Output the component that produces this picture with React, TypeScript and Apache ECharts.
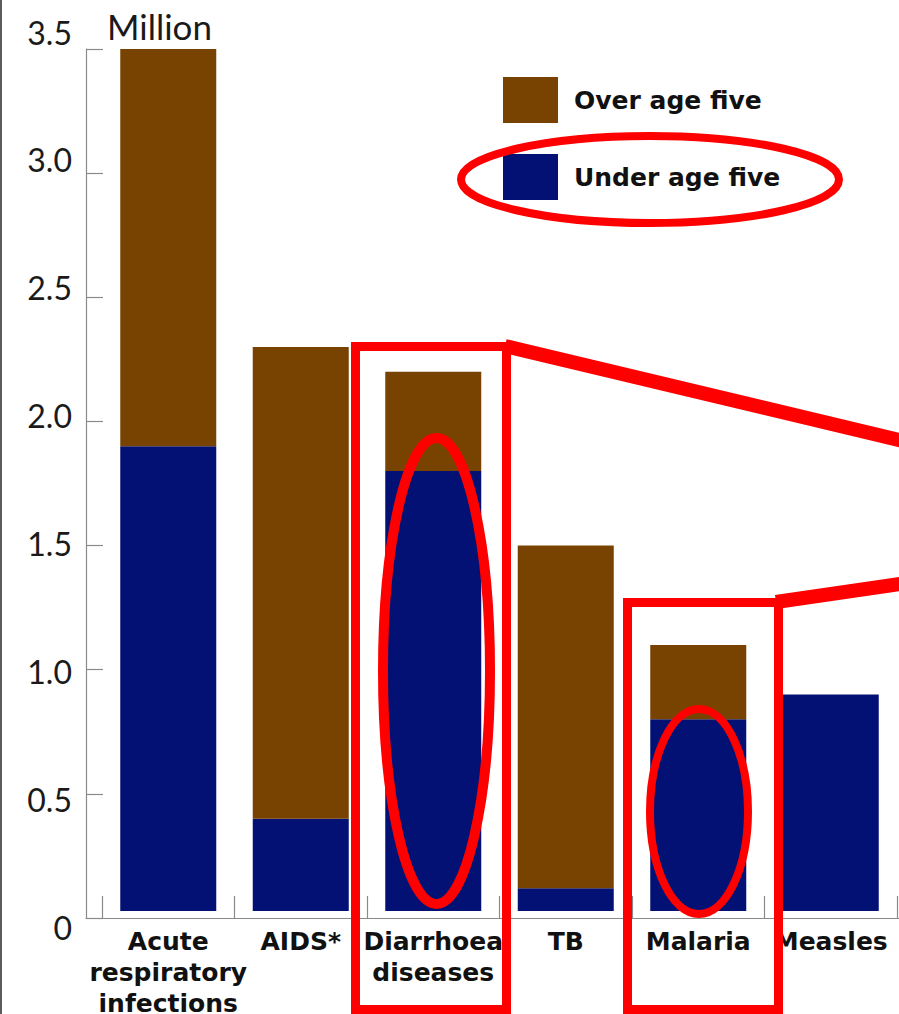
import React, { useEffect, useRef } from "react";
import * as echarts from "echarts";

// Deaths by cause, millions, split by age group
const categories = [
  "Acute\nrespiratory\ninfections",
  "AIDS*",
  "Diarrhoea\ndiseases",
  "TB",
  "Malaria",
  "Measles",
];
const underFive = [1.9, 0.4, 1.8, 0.12, 0.8, 0.9];
const overFive = [1.6, 1.9, 0.4, 1.38, 0.3, 0];
const yTickLabels = ["0", "0.5", "1.0", "1.5", "2.0", "2.5", "3.0", "3.5"];

const BROWN = "#784200";
const NAVY = "#031174";
const RED = "#ff0000";
const AXIS_GRAY = "#8a8a8a";
const BOLD_FONT = "DejaVu Sans";
const LIGHT_FONT = "Lato";

export default function App() {
  const ref = useRef<HTMLDivElement>(null);

  useEffect(() => {
    if (!ref.current) return;
    const chart = echarts.init(ref.current, null, { renderer: "svg" });

    const option: echarts.EChartsOption = {
      animation: false,
      backgroundColor: "#ffffff",
      grid: [
        // axis frame: value 0 at the base line, 3.5 at the top tick
        { left: 86, top: 49, width: 813, height: 869, outerBoundsMode: "none" },
        // bars and category ticks
        { left: 102, top: 49, width: 795, height: 862, outerBoundsMode: "none" },
        // value-axis tick labels
        { left: 86, top: 32, width: 1, height: 895, outerBoundsMode: "none" },
      ],
      xAxis: [
        {
          gridIndex: 0,
          type: "value",
          min: 0,
          max: 1,
          axisLine: { show: true, lineStyle: { color: AXIS_GRAY, width: 1.2 } },
          axisTick: { show: false },
          axisLabel: { show: false },
          splitLine: { show: false },
        },
        {
          gridIndex: 1,
          type: "category",
          data: categories,
          offset: 7,
          axisLine: { show: false },
          axisTick: {
            show: true,
            inside: true,
            length: 22,
            lineStyle: { color: AXIS_GRAY, width: 1.2 },
          },
          axisLabel: {
            interval: 0,
            margin: 8,
            color: "#111111",
            fontFamily: BOLD_FONT,
            fontWeight: "bold",
            fontSize: 25,
            lineHeight: 31,
            verticalAlign: "top",
          },
          splitLine: { show: false },
        },
        { gridIndex: 2, type: "value", show: false },
      ],
      yAxis: [
        {
          gridIndex: 0,
          type: "value",
          min: 0,
          max: 3.5,
          interval: 0.5,
          axisLine: { show: true, lineStyle: { color: AXIS_GRAY, width: 1.2 } },
          axisTick: {
            show: true,
            inside: true,
            length: 17,
            lineStyle: { color: AXIS_GRAY, width: 1.2 },
          },
          axisLabel: { show: false },
          splitLine: { show: false },
        },
        {
          gridIndex: 1,
          type: "value",
          min: 7 / 248.3,
          max: 3.5,
          show: false,
          splitLine: { show: false },
        },
        {
          gridIndex: 2,
          type: "value",
          min: 0,
          max: 3.5,
          interval: 0.5,
          axisLine: { show: false },
          axisTick: { show: false },
          splitLine: { show: false },
          axisLabel: {
            margin: 14,
            color: "#1a1a1a",
            fontFamily: LIGHT_FONT,
            fontWeight: 400,
            fontSize: 32,
            formatter: (_v: number, i: number) => yTickLabels[i],
          },
        },
      ],
      legend: {
        orient: "vertical",
        left: 503,
        top: 77,
        padding: 0,
        itemWidth: 55,
        itemHeight: 46,
        itemGap: 31,
        icon: "rect",
        data: ["Over age five", "Under age five"],
        textStyle: {
          color: "#111111",
          fontFamily: BOLD_FONT,
          fontWeight: "bold",
          fontSize: 25,
          padding: [18, 0, 0, 11],
        },
      },
      series: [
        {
          name: "Under age five",
          type: "bar",
          stack: "deaths",
          xAxisIndex: 1,
          yAxisIndex: 1,
          barWidth: 96,
          clip: true,
          data: underFive,
          itemStyle: { color: NAVY },
        },
        {
          name: "Over age five",
          type: "bar",
          stack: "deaths",
          xAxisIndex: 1,
          yAxisIndex: 1,
          barWidth: 96,
          clip: true,
          data: overFive,
          itemStyle: { color: BROWN },
        },
      ],
      graphic: [
        {
          type: "rect",
          z: 100,
          shape: { x: 0, y: 0, width: 2, height: 1014 },
          style: { fill: "#5c5c5c" },
        },
        {
          type: "text",
          z: 100,
          x: 107,
          y: 26,
          style: {
            text: "Million",
            fill: "#1a1a1a",
            font: `400 35px ${LIGHT_FONT}`,
            verticalAlign: "middle",
            align: "left",
          },
        },
        // highlight around the under-five legend entry
        {
          type: "ellipse",
          z: 100,
          shape: { cx: 650, cy: 179.5, rx: 189, ry: 43.5 },
          style: { fill: null, stroke: RED, lineWidth: 8 },
        },
        // diarrhoea call-out
        {
          type: "rect",
          z: 100,
          shape: { x: 355.5, y: 346.5, width: 151, height: 663 },
          style: { fill: null, stroke: RED, lineWidth: 9 },
        },
        {
          type: "ellipse",
          z: 100,
          shape: { cx: 436.5, cy: 671, rx: 53.5, ry: 233 },
          style: { fill: null, stroke: RED, lineWidth: 10 },
        },
        {
          type: "line",
          z: 100,
          shape: { x1: 505, y1: 346, x2: 920, y2: 445 },
          style: { stroke: RED, lineWidth: 14 },
        },
        // malaria call-out
        {
          type: "rect",
          z: 100,
          shape: { x: 627.5, y: 602.5, width: 151, height: 407 },
          style: { fill: null, stroke: RED, lineWidth: 9 },
        },
        {
          type: "line",
          z: 100,
          shape: { x1: 776, y1: 602, x2: 920, y2: 581 },
          style: { stroke: RED, lineWidth: 14 },
        },
        {
          type: "ellipse",
          z: 100,
          shape: { cx: 699, cy: 811.5, rx: 49, ry: 102.5 },
          style: { fill: null, stroke: RED, lineWidth: 8 },
        },
      ],
    };

    chart.setOption(option);
    return () => chart.dispose();
  }, []);

  return (
    <div
      ref={ref}
      style={{ position: "fixed", left: 0, top: 0, width: 899, height: 1014 }}
    />
  );
}
